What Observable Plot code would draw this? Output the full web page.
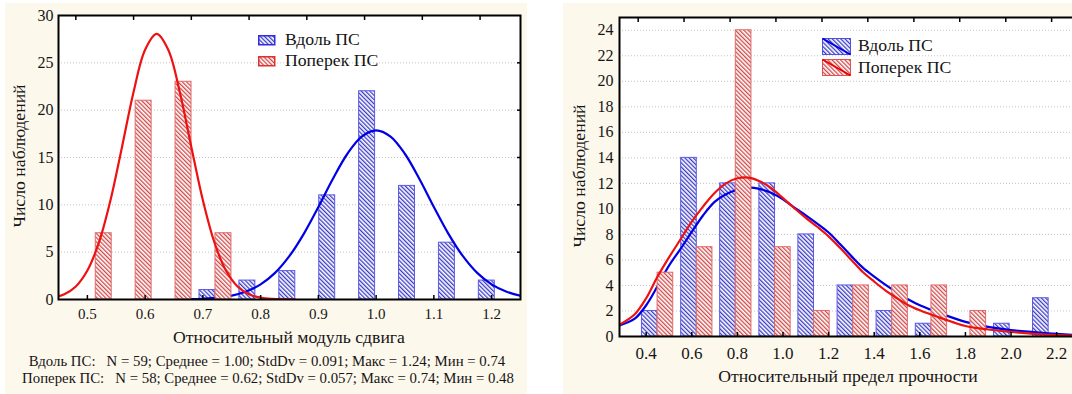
<!DOCTYPE html>
<html><head><meta charset="utf-8">
<script src="https://cdn.jsdelivr.net/npm/d3@7"></script>
<script src="https://cdn.jsdelivr.net/npm/@observablehq/plot@0.6"></script>
<style>
html,body{margin:0;padding:0;background:#fff;width:1072px;height:394px;overflow:hidden;position:relative;}
.panel{position:absolute;background:#fdf8ec;overflow:hidden;}
.panel svg{position:absolute;left:0;top:0;max-width:none !important;}
.t{position:absolute;font-family:"Liberation Serif","DejaVu Serif",serif;color:#151515;white-space:pre;line-height:1;}
.c{transform:translateX(-50%);}
.r{transform:translate(-50%,-50%) rotate(-90deg);}
</style></head><body>
<svg width="0" height="0" style="position:absolute;left:0;top:0"><defs>
<pattern id="hb" patternUnits="userSpaceOnUse" width="3" height="3" patternTransform="rotate(-45)"><rect width="3" height="3" fill="#fff"/><rect width="1.3" height="3" fill="#3a3ac4"/></pattern>
<pattern id="hr" patternUnits="userSpaceOnUse" width="3" height="3" patternTransform="rotate(-45)"><rect width="3" height="3" fill="#fff"/><rect width="1.3" height="3" fill="#d04848"/></pattern>
</defs></svg>
<div id="left" class="panel" style="left:5px;top:3px;width:522px;height:391px"></div>
<div id="right" class="panel" style="left:563px;top:3px;width:509px;height:391px"></div>

<div class="t r" style="left:20px;top:156px;font-size:17.7px">Число наблюдений</div>
<div class="t c" style="left:289px;top:329px;font-size:17.7px">Относительный модуль сдвига</div>
<div class="t c" style="left:267px;top:353.5px;font-size:14.8px">Вдоль ПС:   N = 59; Среднее = 1.00; StdDv = 0.091; Макс = 1.24; Мин = 0.74</div>
<div class="t c" style="left:268px;top:370.5px;font-size:14.8px">Поперек ПС:   N = 58; Среднее = 0.62; StdDv = 0.057; Макс = 0.74; Мин = 0.48</div>
<svg style="position:absolute;left:258px;top:35px" width="18" height="32"><rect x="0.75" y="0.75" width="16" height="9" fill="url(#hb)" stroke="#2f2fe0" stroke-width="1.5"/><rect x="0.75" y="21.75" width="16" height="9" fill="url(#hr)" stroke="#e03030" stroke-width="1.5"/></svg>
<div class="t" style="left:285px;top:31px;font-size:17.7px">Вдоль ПС</div>
<div class="t" style="left:285px;top:52px;font-size:17.7px">Поперек ПС</div>

<div class="t r" style="left:580px;top:176px;font-size:17.7px">Число наблюдений</div>
<div class="t c" style="left:848px;top:368px;font-size:17.7px">Относительный предел прочности</div>
<svg style="position:absolute;left:822px;top:38px" width="30" height="39"><rect x="0.5" y="0.5" width="28" height="16" fill="url(#hb)" stroke="#5050e0" stroke-width="1"/><line x1="0.5" y1="0.5" x2="28.5" y2="16.5" stroke="#0000e6" stroke-width="2"/><rect x="0.5" y="21.5" width="28" height="16" fill="url(#hr)" stroke="#e05050" stroke-width="1"/><line x1="0.5" y1="21.5" x2="28.5" y2="37.5" stroke="#ee0000" stroke-width="2"/></svg>
<div class="t" style="left:858px;top:37px;font-size:17.7px">Вдоль ПС</div>
<div class="t" style="left:858px;top:59px;font-size:17.7px">Поперек ПС</div>

<script>
// ---------- Left panel data (relative shear modulus) ----------
const leftBinCenters = [0.5145, 0.5836, 0.6527, 0.7218, 0.7909, 0.8600, 0.9291, 0.9982, 1.0673, 1.1364, 1.2055];
const leftBinWidth = 0.0691;
const leftAlong  = [0, 0, 0, 1, 2, 3, 11, 22, 12, 6, 2];
const leftAcross = [7, 21, 23, 7, 0, 0, 0, 0, 0, 0, 0];
const leftXTicks = [0.5, 0.6, 0.7, 0.8, 0.9, 1.0, 1.1, 1.2];
const leftYTicks = [0, 5, 10, 15, 20, 25, 30];
const leftTopTicks = [0.48, 0.58, 0.68, 0.78, 0.88, 0.98, 1.08, 1.18];
const leftAlongCurveX = [0.68, 0.70, 0.725, 0.75, 0.775, 0.80, 0.825, 0.85, 0.875, 0.90, 0.925, 0.95, 0.975, 1.00, 1.025, 1.05, 1.075, 1.10, 1.125, 1.15, 1.175, 1.20, 1.225, 1.25, 1.275];
const leftAlongCurveY = [0.03, 0.08, 0.19, 0.41, 0.84, 1.60, 2.81, 4.60, 6.96, 9.77, 12.73, 15.37, 17.21, 17.87, 17.21, 15.37, 12.73, 9.77, 6.96, 4.60, 2.81, 1.60, 0.84, 0.41, 0.19];
const leftAcrossCurveX = [0.44, 0.46, 0.48, 0.50, 0.52, 0.54, 0.56, 0.58, 0.60, 0.62, 0.64, 0.66, 0.68, 0.70, 0.72, 0.74, 0.76, 0.78, 0.80, 0.82, 0.86];
const leftAcrossCurveY = [0.19, 0.55, 1.38, 3.06, 6.02, 10.48, 16.12, 21.93, 26.38, 28.05, 26.38, 21.93, 16.12, 10.48, 6.02, 3.06, 1.38, 0.55, 0.19, 0.06, 0.0];

// ---------- Right panel data (relative strength limit) ----------
const rightBinCenters = [0.450, 0.622, 0.793, 0.965, 1.136, 1.308, 1.479, 1.651, 1.822, 1.994, 2.165];
const rightBinWidth = 0.1715;
const rightAlong  = [2, 14, 12, 12, 8, 4, 2, 1, 0, 1, 3];
const rightAcross = [5, 7, 24, 7, 2, 4, 4, 4, 2, 0, 0];
const rightXTicks = [0.4, 0.6, 0.8, 1.0, 1.2, 1.4, 1.6, 1.8, 2.0, 2.2];
const rightYTicks = [0, 2, 4, 6, 8, 10, 12, 14, 16, 18, 20, 22, 24];
const rightTopTicks = [0.365, 0.566, 0.768, 0.969, 1.171, 1.372, 1.574, 1.775, 1.977, 2.178];
const rightCurveX = [0.28, 0.35, 0.40, 0.45, 0.50, 0.55, 0.60, 0.65, 0.70, 0.75, 0.80, 0.85, 0.90, 0.95, 1.00, 1.05, 1.10, 1.15, 1.20, 1.25, 1.30, 1.35, 1.40, 1.45, 1.50, 1.55, 1.60, 1.70, 1.80, 1.90, 2.00, 2.10, 2.20, 2.30, 2.50];
const rightAlongCurveY  = [0.85, 1.4, 2.45, 3.95, 5.55, 6.85, 8.2, 9.5, 10.55, 11.15, 11.5, 11.68, 11.55, 11.25, 10.75, 10.1, 9.5, 8.85, 8.15, 7.25, 6.3, 5.4, 4.7, 4.05, 3.45, 2.9, 2.45, 1.75, 1.15, 0.75, 0.5, 0.34, 0.2, 0.11, 0.04];
const rightAcrossCurveY = [0.9, 1.75, 3.0, 4.7, 6.2, 7.6, 9.0, 10.2, 11.25, 12.0, 12.4, 12.45, 12.15, 11.6, 10.85, 10.05, 9.3, 8.6, 7.85, 6.95, 6.0, 5.05, 4.3, 3.6, 3.0, 2.45, 2.05, 1.4, 0.82, 0.55, 0.36, 0.21, 0.11, 0.06, 0.02];

const BLUE_LINE = "#0000e6", RED_LINE = "#ee1111";
const BLUE_EDGE = "#5a5ae6", RED_EDGE = "#e06a6a";
const FONT = "'Liberation Serif', 'DejaVu Serif', serif";

function bars(centers, w, values, side) {
  return centers.map((c, i) => ({
    x1: side === "left" ? c - 0.4 * w : c,
    x2: side === "left" ? c : c + 0.4 * w,
    y: values[i]
  })).filter(d => d.y > 0);
}
function pts(xs, ys) { return xs.map((x, i) => ({x, y: ys[i]})); }

function panel(cfg) {
  return Plot.plot({
    width: cfg.width, height: cfg.height,
    marginTop: cfg.mt, marginLeft: cfg.ml, marginRight: cfg.mr, marginBottom: cfg.mb,
    style: {background: "transparent", fontFamily: FONT, color: "#151515", overflow: "visible", maxWidth: "none"},
    x: {domain: cfg.xDomain},
    y: {domain: cfg.yDomain},
    marks: [
      Plot.frame({fill: "white", stroke: "none"}),
      Plot.gridY(cfg.yTicks.slice(1), {stroke: "#c4c4c4", strokeOpacity: 1, strokeDasharray: "1,2"}),
      Plot.rectY(bars(cfg.centers, cfg.bw, cfg.along, "left"), {x1: "x1", x2: "x2", y: "y", fill: "url(#hb)", stroke: BLUE_EDGE, strokeWidth: 1}),
      Plot.line(pts(cfg.acx, cfg.acy), {x: "x", y: "y", stroke: BLUE_LINE, strokeWidth: 2.2, curve: "catmull-rom", clip: true}),
      Plot.rectY(bars(cfg.centers, cfg.bw, cfg.across, "right"), {x1: "x1", x2: "x2", y: "y", fill: "url(#hr)", stroke: RED_EDGE, strokeWidth: 1}),
      Plot.line(pts(cfg.rcx, cfg.rcy), {x: "x", y: "y", stroke: RED_LINE, strokeWidth: 2.2, curve: "catmull-rom", clip: true}),
      Plot.frame({stroke: "black", strokeWidth: 2}),
      Plot.axisX(cfg.xTicks, {anchor: "bottom", tickSize: 0, tickPadding: cfg.xPad, tickFormat: d3.format(".1f"), fontSize: cfg.xFont, label: null}),
      Plot.axisX(cfg.xTicks, {anchor: "bottom", tickSize: -4, fill: "none", stroke: "black", strokeWidth: 1.5, label: null}),
      Plot.axisX(cfg.topTicks, {anchor: "top", tickSize: -4, fill: "none", stroke: "black", strokeWidth: 1.5, label: null}),
      Plot.axisY(cfg.yTicks, {anchor: "left", tickSize: 0, tickPadding: cfg.yPad, fontSize: cfg.yFont, label: null}),
      ...(cfg.rightTicks ? [Plot.axisY(cfg.yTicks.slice(1, -1), {anchor: "right", tickSize: -4, fill: "none", stroke: "black", strokeWidth: 1.5, label: null})] : [])
    ]
  });
}

document.getElementById("left").appendChild(panel({
  width: 522, height: 330, mt: 12, ml: 53, mr: 7, mb: 34,
  xDomain: [0.45, 1.25], yDomain: [0, 30],
  xTicks: leftXTicks, yTicks: leftYTicks, topTicks: leftTopTicks,
  centers: leftBinCenters, bw: leftBinWidth, along: leftAlong, across: leftAcross,
  acx: leftAlongCurveX, acy: leftAlongCurveY, rcx: leftAcrossCurveX, rcy: leftAcrossCurveY,
  xPad: 9, yPad: 5, xFont: "15px", yFont: "16px", rightTicks: true
}));

document.getElementById("right").appendChild(panel({
  width: 562, height: 360, mt: 14, ml: 56, mr: 0, mb: 27,
  xDomain: [0.283, 2.502], yDomain: [0, 25],
  xTicks: rightXTicks, yTicks: rightYTicks, topTicks: rightTopTicks,
  centers: rightBinCenters, bw: rightBinWidth, along: rightAlong, across: rightAcross,
  acx: rightCurveX, acy: rightAlongCurveY, rcx: rightCurveX, rcy: rightAcrossCurveY,
  xPad: 10, yPad: 6, xFont: "17px", yFont: "16px", rightTicks: false
}));
</script>
</body></html>
